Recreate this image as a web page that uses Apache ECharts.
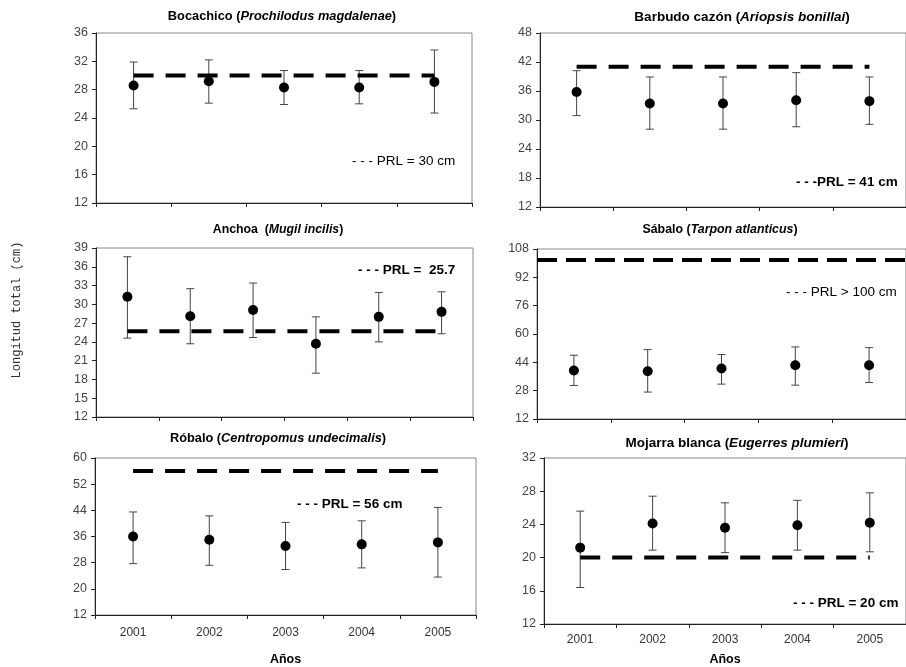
<!DOCTYPE html>
<html><head><meta charset="utf-8">
<script src="https://cdn.jsdelivr.net/npm/echarts@6/dist/echarts.min.js"></script>
<style>html,body{margin:0;padding:0;background:#fff}#c{width:906px;height:667px}</style>
</head><body><div id="c"></div>
<script>
// ---- categories ----
const years = ['2001', '2002', '2003', '2004', '2005'];
const anchoaCats = ['1', '2', '3', '4', '5', '6'];

// ---- Bocachico ----
const bocachicoMean = [28.6, 29.2, 28.3, 28.3, 29.1];
const bocachicoLow  = [25.3, 26.1, 25.9, 26.0, 24.7];
const bocachicoHigh = [31.9, 32.2, 30.7, 30.7, 33.6];
const bocachicoPRL = 30;
const bocachicoTicks = [12, 16, 20, 24, 28, 32, 36];

// ---- Barbudo cazón ----
const barbudoMean = [35.8, 33.4, 33.4, 34.1, 33.9];
const barbudoLow  = [30.9, 28.1, 28.1, 28.6, 29.1];
const barbudoHigh = [40.2, 38.9, 38.9, 39.8, 38.9];
const barbudoPRL = 41;
const barbudoTicks = [12, 18, 24, 30, 36, 42, 48];

// ---- Anchoa ----
const anchoaMean = [31.2, 28.1, 29.1, 23.7, 28.0, 28.8];
const anchoaLow  = [24.6, 23.7, 24.7, 19.0, 24.0, 25.3];
const anchoaHigh = [37.6, 32.5, 33.4, 28.0, 31.9, 32.0];
const anchoaPRL = 25.7;
const anchoaTicks = [12, 15, 18, 21, 24, 27, 30, 33, 36, 39];

// ---- Sábalo ----
const sabaloMean = [39.4, 39.0, 40.5, 42.4, 42.4];
const sabaloLow  = [30.9, 27.2, 31.7, 31.1, 32.6];
const sabaloHigh = [48.0, 51.2, 48.4, 52.7, 52.3];
const sabaloPRL = 102;
const sabaloTicks = [12, 28, 44, 60, 76, 92, 108];

// ---- Róbalo ----
const robaloMean = [36.0, 35.0, 33.1, 33.6, 34.2];
const robaloLow  = [27.7, 27.2, 25.9, 26.4, 23.6];
const robaloHigh = [43.5, 42.3, 40.3, 40.8, 44.9];
const robaloPRL = 56;
const robaloTicks = [12, 20, 28, 36, 44, 52, 60];

// ---- Mojarra blanca ----
const mojarraMean = [21.2, 24.1, 23.6, 23.9, 24.2];
const mojarraLow  = [16.4, 20.9, 20.6, 20.9, 20.7];
const mojarraHigh = [25.6, 27.4, 26.6, 26.9, 27.8];
const mojarraPRL = 20;
const mojarraTicks = [12, 16, 20, 24, 28, 32];

const SANS = '"Liberation Sans", Arial, sans-serif';

const panels = [
  {name: 'Bocachico (', sci: 'Prochilodus magdalenae', cats: years, mean: bocachicoMean, low: bocachicoLow, high: bocachicoHigh, prl: bocachicoPRL, ticks: bocachicoTicks,
   grid: {left: 96, top: 33, width: 376, height: 170}, titleX: 282, titleY: 10, tsize: 12.8,
   legend: '- - - PRL = ' + bocachicoPRL + ' cm', lx: 352, ly: 161, lbold: false, dash: [20, 12]},
  {name: 'Barbudo cazón (', sci: 'Ariopsis bonillai', cats: years, mean: barbudoMean, low: barbudoLow, high: barbudoHigh, prl: barbudoPRL, ticks: barbudoTicks,
   grid: {left: 540, top: 33, width: 375, height: 174}, titleX: 742, titleY: 10, tsize: 13.5,
   legend: '- - -PRL = ' + barbudoPRL + ' cm', lx: 796, ly: 182, lbold: true, dash: [20, 12]},
  {name: 'Anchoa  (', sci: 'Mugil incilis', cats: anchoaCats, mean: anchoaMean, low: anchoaLow, high: anchoaHigh, prl: anchoaPRL, ticks: anchoaTicks,
   grid: {left: 96, top: 248, width: 377, height: 169}, titleX: 278, titleY: 224, tsize: 12.3,
   legend: '- - - PRL =  ' + anchoaPRL, lx: 358, ly: 270, lbold: true, dash: [20, 12]},
  {name: 'Sábalo (', sci: 'Tarpon atlanticus', cats: years, mean: sabaloMean, low: sabaloLow, high: sabaloHigh, prl: sabaloPRL, ticks: sabaloTicks,
   grid: {left: 537, top: 249, width: 372, height: 170}, titleX: 720, titleY: 224, tsize: 12.4, full: true,
   legend: '- - - PRL > 100 cm', lx: 786, ly: 292, lbold: false, dash: [20, 9]},
  {name: 'Róbalo (', sci: 'Centropomus undecimalis', cats: years, mean: robaloMean, low: robaloLow, high: robaloHigh, prl: robaloPRL, ticks: robaloTicks,
   grid: {left: 95, top: 458, width: 381, height: 164}, titleX: 278, titleY: 432, tsize: 12.8, bottom: true, nameGap: 38, labelMargin: 12,
   legend: '- - - PRL = ' + robaloPRL + ' cm', lx: 297, ly: 504, lbold: true, dash: [20, 12]},
  {name: 'Mojarra blanca (', sci: 'Eugerres plumieri', cats: years, mean: mojarraMean, low: mojarraLow, high: mojarraHigh, prl: mojarraPRL, ticks: mojarraTicks,
   grid: {left: 544, top: 458, width: 370, height: 169}, titleX: 737, titleY: 436, tsize: 13.5, bottom: true, nameGap: 29, labelMargin: 10,
   legend: '- - - PRL = ' + mojarraPRL + ' cm', lx: 793, ly: 603, lbold: true, dash: [20, 12]}
];

function renderErr(params, api) {
  const x = api.value(0), lo = api.value(1), hi = api.value(2);
  const a = api.coord([x, lo]), b = api.coord([x, hi]);
  const w = 4;
  const st = {stroke: '#444', lineWidth: 1};
  return {type: 'group', children: [
    {type: 'line', shape: {x1: a[0], y1: a[1], x2: b[0], y2: b[1]}, style: st},
    {type: 'line', shape: {x1: b[0] - w, y1: b[1], x2: b[0] + w, y2: b[1]}, style: st},
    {type: 'line', shape: {x1: a[0] - w, y1: a[1], x2: a[0] + w, y2: a[1]}, style: st}
  ]};
}

const grid = [], xAxis = [], yAxis = [], series = [], title = [], graphic = [];
panels.forEach((p, i) => {
  grid.push(Object.assign({show: true, borderColor: '#888', borderWidth: 1, containLabel: false}, p.grid));
  xAxis.push({
    type: 'category', gridIndex: i, data: p.cats, boundaryGap: true,
    axisLine: {show: true, lineStyle: {color: '#222', width: 1}},
    axisTick: {show: true, length: 4, lineStyle: {color: '#222'}},
    axisLabel: {show: !!p.bottom, color: '#333', fontSize: 12, fontFamily: SANS, margin: p.labelMargin || 10},
    splitLine: {show: false},
    name: p.bottom ? 'Años' : '', nameLocation: 'middle', nameGap: p.nameGap || 30,
    nameTextStyle: {color: '#000', fontWeight: 'bold', fontSize: 12.5, fontFamily: SANS}
  });
  const mn = p.ticks[0], mx = p.ticks[p.ticks.length - 1];
  yAxis.push({
    type: 'value', gridIndex: i, min: mn, max: mx,
    axisLine: {show: true, lineStyle: {color: '#222', width: 1}},
    axisTick: {show: true, length: 4, lineStyle: {color: '#222'}, customValues: p.ticks},
    axisLabel: {color: '#444', fontSize: 12.5, fontFamily: SANS, margin: 8, customValues: p.ticks},
    splitLine: {show: false}
  });
  series.push({
    type: 'custom', xAxisIndex: i, yAxisIndex: i, renderItem: renderErr,
    encode: {x: 0, y: [1, 2]}, z: 2,
    data: p.cats.map((c, k) => [k, p.low[k], p.high[k]])
  });
  if (p.full) {
    series.push({
      type: 'scatter', xAxisIndex: i, yAxisIndex: i, data: [], z: 3,
      markLine: {silent: true, symbol: ['none', 'none'], label: {show: false},
        lineStyle: {color: '#000', width: 4, type: p.dash, opacity: 1},
        data: [{yAxis: p.prl}]}
    });
  } else {
    series.push({
      type: 'line', xAxisIndex: i, yAxisIndex: i, symbol: 'none', z: 3,
      lineStyle: {color: '#000', width: 4, type: p.dash},
      data: p.cats.map(() => p.prl)
    });
  }
  series.push({
    type: 'scatter', xAxisIndex: i, yAxisIndex: i, symbol: 'circle', symbolSize: 10, z: 4,
    itemStyle: {color: '#000', opacity: 1}, data: p.mean
  });
  title.push({
    text: '{n|' + p.name + '}{i|' + p.sci + '}{n|)}',
    left: p.titleX, top: p.titleY, textAlign: 'center', padding: 0,
    textStyle: {rich: {
      n: {fontWeight: 'bold', fontSize: p.tsize, fontFamily: SANS, color: '#000'},
      i: {fontWeight: 'bold', fontStyle: 'italic', fontSize: p.tsize, fontFamily: SANS, color: '#000'}
    }}
  });
  graphic.push({
    type: 'text', x: p.lx, y: p.ly,
    style: {text: p.legend, font: (p.lbold ? 'bold ' : '') + '13.5px ' + SANS, fill: '#000',
      textAlign: 'left', textVerticalAlign: 'middle'}
  });
});

graphic.push({
  type: 'text', x: 17, y: 310, rotation: Math.PI / 2,
  style: {text: 'Longitud total (cm)', font: '12px "Liberation Mono", monospace', fill: '#333',
    textAlign: 'center', textVerticalAlign: 'middle'}
});

const chart = echarts.init(document.getElementById('c'), null, {renderer: 'canvas'});
chart.setOption({animation: false, backgroundColor: '#fff', grid, xAxis, yAxis, series, title, graphic});
</script></body></html>
